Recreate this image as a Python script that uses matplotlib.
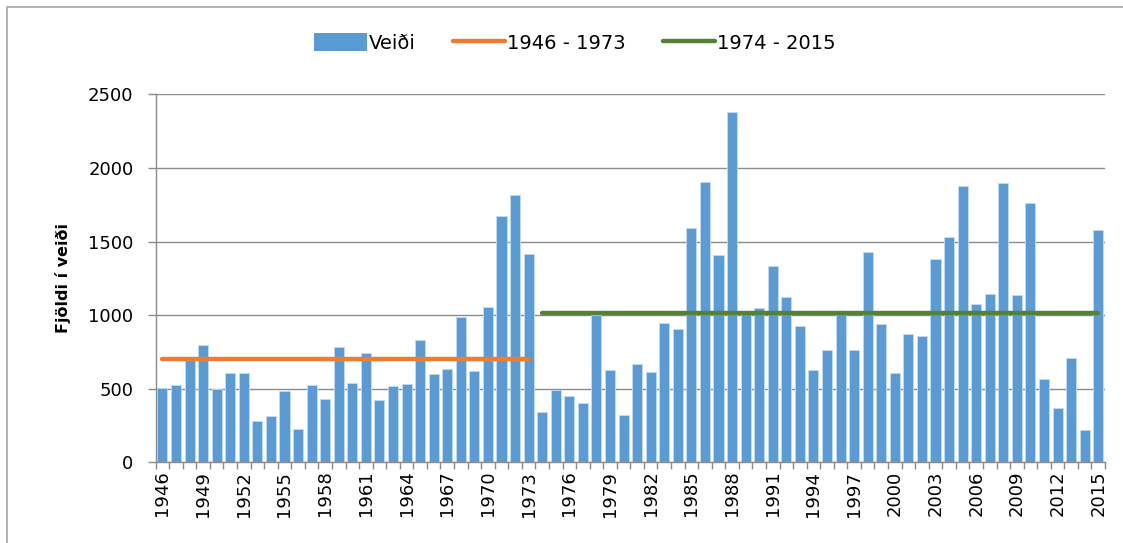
import numpy as np
import matplotlib
matplotlib.use("Agg")
import matplotlib.pyplot as plt
from matplotlib.patches import Patch
from matplotlib.lines import Line2D

# yearly catch, 1946 - 2015
years = list(range(1946, 2016))
veidi = [505, 523, 695, 796, 495, 604, 606, 278, 317, 482,
         228, 525, 432, 783, 536, 742, 423, 518, 534, 830,
         600, 631, 989, 622, 1052, 1676, 1819, 1414, 342, 493,
         450, 405, 1002, 627, 324, 670, 615, 946, 903, 1595,
         1905, 1405, 2382, 1010, 1048, 1333, 1122, 928, 624, 762,
         1005, 762, 1430, 937, 606, 873, 860, 1378, 1532, 1880,
         1075, 1143, 1896, 1138, 1760, 566, 369, 710, 217, 1575]
period1 = (1946, 1973)
period2 = (1974, 2015)

plt.rcParams['font.family'] = ['DejaVu Sans']

fig = plt.figure(figsize=(11.23, 5.43), dpi=100)
ax = fig.add_axes([0.1386, 0.1486, 0.8454, 0.6777])

x = np.arange(len(years))
ax.bar(x, veidi, width=0.74, color='#5B9BD5', edgecolor='#C5DCF0',
       linewidth=0.6, zorder=2, label='Veiði')

vals = np.array(veidi)
yrs = np.array(years)
m1 = (yrs >= period1[0]) & (yrs <= period1[1])
m2 = (yrs >= period2[0]) & (yrs <= period2[1])
ax.plot(x[m1][[0, -1]], [vals[m1].mean()] * 2, color='#ED7D31', lw=3.2,
        solid_capstyle='round', zorder=3)
ax.plot(x[m2][[0, -1]], [vals[m2].mean()] * 2, color='#548235', lw=3.2,
        solid_capstyle='round', zorder=3)

ax.set_xlim(-0.5, len(years) - 0.5)
ax.set_ylim(0, 2500)
ax.set_yticks([0, 500, 1000, 1500, 2000, 2500])
ax.yaxis.grid(True, color='#8C8C8C', lw=1.0, zorder=0)
ax.set_axisbelow(True)

ax.set_xticks(x[::3])
ax.set_xticklabels([str(y) for y in years[::3]], rotation=90, fontsize=13)
ax.set_xticks(np.arange(-0.5, len(years), 1), minor=True)
ax.tick_params(axis='x', which='major', length=0, pad=6)
ax.tick_params(axis='x', which='minor', length=5, color='#8C8C8C', width=1)
ax.tick_params(axis='y', length=6, color='#8C8C8C', width=1, labelsize=13, pad=10)

for s in ['top', 'right']:
    ax.spines[s].set_visible(False)
for s in ['left', 'bottom']:
    ax.spines[s].set_color('#8C8C8C')
    ax.spines[s].set_linewidth(1.0)

ax.set_ylabel('Fjöldi í veiði', fontsize=11.5, fontweight='bold', labelpad=12)

handles = [Patch(facecolor='#5B9BD5', edgecolor='none'),
           Line2D([], [], color='#ED7D31', lw=3.2, solid_capstyle='round'),
           Line2D([], [], color='#548235', lw=3.2, solid_capstyle='round')]
labels = ['Veiði', '%d - %d' % period1, '%d - %d' % period2]
fig.legend(handles, labels, loc='center', bbox_to_anchor=(0.512, 0.921), ncol=3,
           frameon=False, fontsize=14, handlelength=2.7, handleheight=1.0,
           handletextpad=0.1, columnspacing=1.9)

# outer chart border (left and top edges only are visible)
fig.add_artist(Line2D([0.0065, 0.0065, 1.0], [0.0, 0.987, 0.987],
                      transform=fig.transFigure, color='#A6A6A6', lw=1.2))

fig.savefig('out.png', dpi=100)
